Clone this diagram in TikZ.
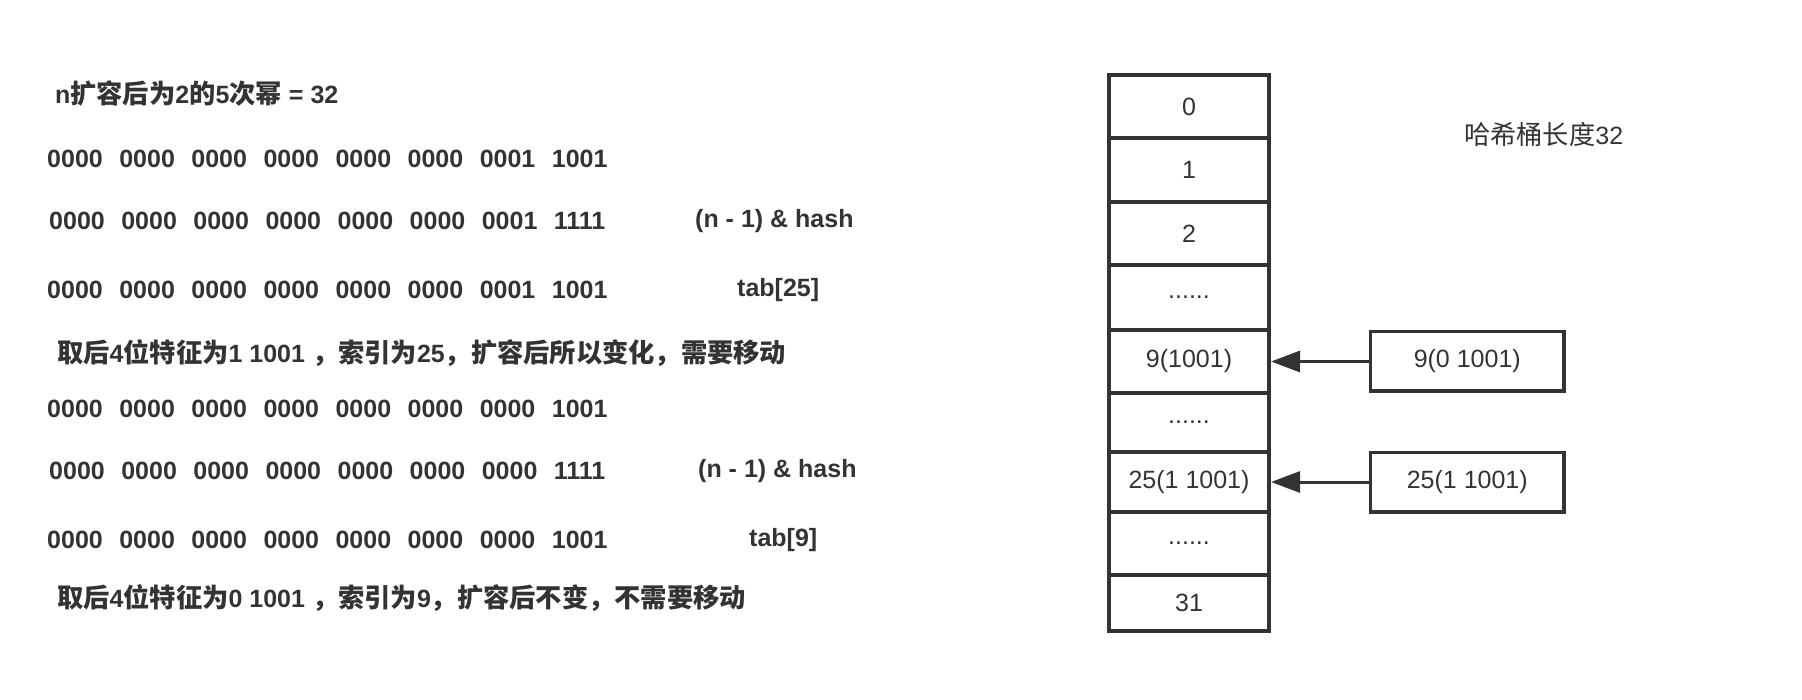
\documentclass[tikz,border=0pt]{standalone}
\usepackage{fontspec}
\setmainfont{Liberation Sans}
\newfontfamily\cjk{Noto Sans CJK SC}[Scale=1.05]
\usetikzlibrary{arrows.meta,positioning}
\definecolor{ink}{HTML}{333333}
\tikzset{>/.tip={Triangle[length=29pt,width=21pt]}}
\newcommand{\zh}[1]{{\cjk #1}}
\newcommand{\bitgap}{\hspace{0.66em}}
\newcommand{\skipped}{......}

\begin{document}
\begin{tikzpicture}[x=1pt,y=-1pt,
  every node/.style={text=ink,font=\fontsize{25}{30}\selectfont},
  bits/.style={anchor=west,inner sep=0pt,font=\fontsize{25}{30}\selectfont\bfseries},
  cell/.style={draw=ink,line width=3.5pt,minimum width=160pt,outer sep=0pt,inner sep=0pt},
  keybox/.style={cell,minimum width=193.5pt,minimum height=59.5pt}]
\useasboundingbox (0,0) rectangle (1802,700);

% left: bit masks
\node[bits] (title) at (55,93) {n\zh{扩容后为}2\zh{的}5\zh{次幂} = 32};
\node[bits] (h25)  at (47,159) {0000\bitgap 0000\bitgap 0000\bitgap 0000\bitgap 0000\bitgap 0000\bitgap 0001\bitgap 1001};
\node[bits] (m25)  at (49,221) {0000\bitgap 0000\bitgap 0000\bitgap 0000\bitgap 0000\bitgap 0000\bitgap 0001\bitgap 1111};
\node[bits] (r25)  at (47,290) {0000\bitgap 0000\bitgap 0000\bitgap 0000\bitgap 0000\bitgap 0000\bitgap 0001\bitgap 1001};
\node[bits] (op25) at (695,221) {(n - 1) \& hash};
\node[bits] (tab25) at (737,290) {tab[25]};
\node[bits] (note25) at (57,353) {\zh{取后}4\zh{位特征为}1 1001 \zh{，索引为}25\zh{，扩容后所以变化，需要移动}};

\node[bits] (h9)  at (47,409) {0000\bitgap 0000\bitgap 0000\bitgap 0000\bitgap 0000\bitgap 0000\bitgap 0000\bitgap 1001};
\node[bits] (m9)  at (49,471) {0000\bitgap 0000\bitgap 0000\bitgap 0000\bitgap 0000\bitgap 0000\bitgap 0000\bitgap 1111};
\node[bits] (r9)  at (47,540) {0000\bitgap 0000\bitgap 0000\bitgap 0000\bitgap 0000\bitgap 0000\bitgap 0000\bitgap 1001};
\node[bits] (op9) at (698,471) {(n - 1) \& hash};
\node[bits] (tab9) at (749,540) {tab[9]};
\node[bits] (note9) at (57,598) {\zh{取后}4\zh{位特征为}0 1001 \zh{，索引为}9\zh{，扩容后不变，不需要移动}};

% right: buckets
\foreach \lab/\yc/\h [count=\i from 0] in {0/106.4/63.25, 1/170/64, 2/233.5/63, \skipped/297.5/65,
    9(1001)/361.5/63, \skipped/422.5/59, 25(1 1001)/482/60, \skipped/543.5/63, 31/603.1/56.25}
  \node[cell,minimum height=\h pt] (cell\i) at (1189,\yc) {\lab};

\node[anchor=west,inner sep=0pt] (len) at (1464,135) {\zh{哈希桶长度}32};

\node[keybox,right=101.5pt of cell4] (k9)  {9(0 1001)};
\node[keybox,right=101.5pt of cell6] (k25) {25(1 1001)};
\draw[->,draw=ink,line width=3pt,shorten >=2pt] (k9) -- (cell4);
\draw[->,draw=ink,line width=3pt,shorten >=2pt] (k25) -- (cell6);
\end{tikzpicture}
\end{document}
